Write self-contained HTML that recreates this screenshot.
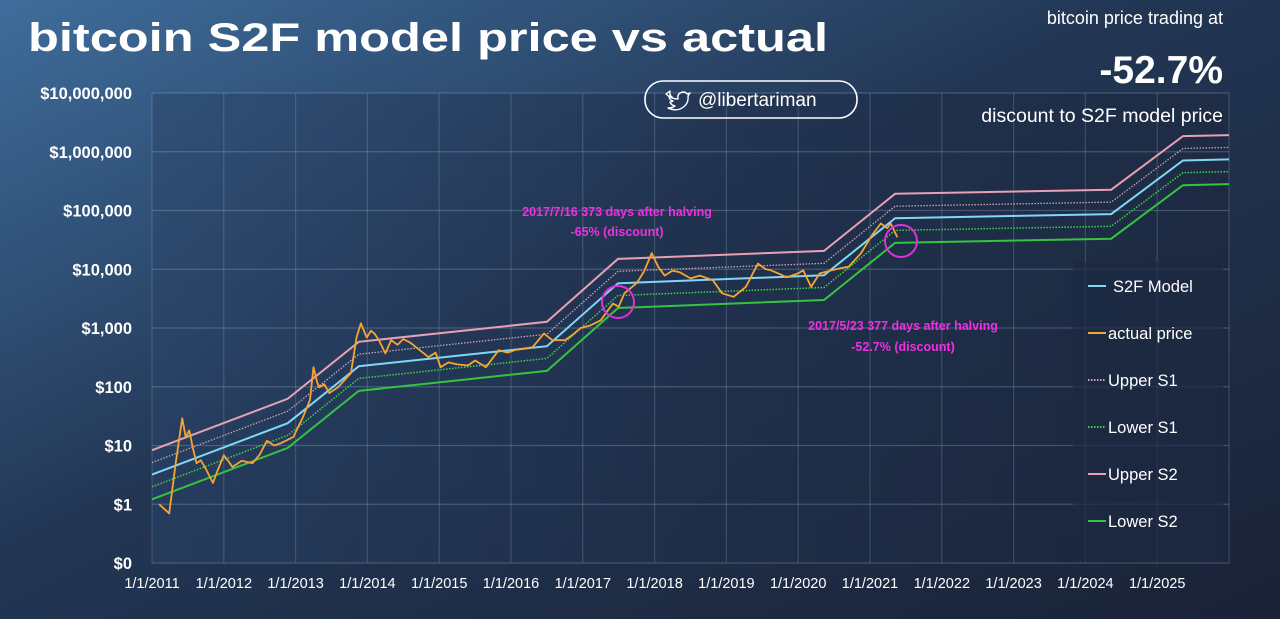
<!DOCTYPE html>
<html><head><meta charset="utf-8"><style>
html,body{margin:0;padding:0;width:1280px;height:619px;overflow:hidden;background:#1c2740;}
svg{display:block;font-family:"Liberation Sans",sans-serif;}
</style></head><body>
<svg id="chart" width="1280" height="619" viewBox="0 0 1280 619">
<defs>
<linearGradient id="bg" x1="0" y1="0" x2="1" y2="1">
<stop offset="0" stop-color="#3f6d9c"/><stop offset="0.45" stop-color="#223654"/><stop offset="1" stop-color="#1a2236"/>
</linearGradient>
<linearGradient id="pbg" x1="0" y1="0" x2="1" y2="0">
<stop offset="0" stop-color="#2a4468"/><stop offset="0.5" stop-color="#1f2e4a"/><stop offset="1" stop-color="#1b253b"/>
</linearGradient>
</defs>
<rect width="1280" height="619" fill="url(#bg)"/>
<rect x="152" y="93" width="1077" height="470" fill="url(#pbg)" opacity="0.5"/>
<g id="grid"></g>
<g id="yticks"></g>
<g id="xticks"></g>
<g id="series"></g>
<text x="28" y="51" font-size="40" font-weight="bold" fill="#fff" textLength="800" lengthAdjust="spacingAndGlyphs">bitcoin S2F model price  vs actual</text>
<text x="1223" y="24" font-size="18" fill="#fff" text-anchor="end">bitcoin price trading at</text>
<text x="1223" y="83" font-size="39" font-weight="bold" fill="#fff" text-anchor="end">-52.7%</text>
<text x="1223" y="122" font-size="19.5" fill="#fff" text-anchor="end">discount to S2F model price</text>
<g>
<rect x="645" y="81" width="212" height="37" rx="18" fill="none" stroke="#fff" stroke-width="1.6"/>
<path d="M666 94 q5 5 12 5 q-1 -6 5 -7 q3 0 4 2 l3 -1 l-2 3 q1 9 -8 13 q-6 2 -12 -1 q4 0 7 -2 q-4 -1 -5 -4 q2 0 3 -1 q-4 -1 -4 -5 q1 1 3 1 q-3 -2 -2 -6z" fill="none" stroke="#fff" stroke-width="1.4" stroke-linejoin="round"/>
<text x="698" y="106" font-size="19" fill="#fff">@libertariman</text>
</g>
<g id="annot"></g>
<g id="legend"></g>
</svg>
<script>
const NS="http://www.w3.org/2000/svg";
const yTickValues=[0.1,1,10,100,1000,10000,100000,1000000,10000000];
const yTickLabels=["$0","$1","$10","$100","$1,000","$10,000","$100,000","$1,000,000","$10,000,000"];
const xGridYears=[2011,2012,2013,2014,2015,2016,2017,2018,2019,2020,2021,2022,2023,2024,2025,2026];
const xTickYears=[2011,2012,2013,2014,2015,2016,2017,2018,2019,2020,2021,2022,2023,2024,2025];
const xTickLabels=["1/1/2011","1/1/2012","1/1/2013","1/1/2014","1/1/2015","1/1/2016","1/1/2017","1/1/2018","1/1/2019","1/1/2020","1/1/2021","1/1/2022","1/1/2023","1/1/2024","1/1/2025"];
const modelYears=[2011.0,2012.89,2013.88,2016.5,2017.49,2020.36,2021.35,2024.36,2025.36,2026.0];
const modelValues=[3.2,24,224,490,5760,7900,74000,87000,710000,740000];
const bandNames=["Upper S2","Upper S1","Lower S1","Lower S2"];
const bandFactors=[2.6,1.6,0.62,0.38];
const priceYears=[2011.1,2011.24,2011.33,2011.42,2011.47,2011.52,2011.57,2011.62,2011.68,2011.75,2011.85,2011.9,2012.0,2012.06,2012.12,2012.25,2012.4,2012.5,2012.6,2012.7,2012.8,2012.97,2013.1,2013.2,2013.25,2013.3,2013.33,2013.4,2013.47,2013.59,2013.77,2013.85,2013.91,2013.99,2014.05,2014.1,2014.16,2014.25,2014.33,2014.42,2014.5,2014.6,2014.68,2014.85,2014.95,2015.02,2015.13,2015.25,2015.4,2015.5,2015.65,2015.83,2015.95,2016.05,2016.2,2016.3,2016.46,2016.52,2016.58,2016.75,2016.85,2016.97,2017.1,2017.25,2017.35,2017.42,2017.5,2017.58,2017.75,2017.85,2017.96,2018.05,2018.14,2018.25,2018.35,2018.5,2018.63,2018.81,2018.94,2019.1,2019.27,2019.44,2019.55,2019.62,2019.75,2019.84,2020.0,2020.07,2020.18,2020.3,2020.47,2020.6,2020.7,2020.87,2021.04,2021.15,2021.24,2021.29,2021.38];
const priceValues=[1.0,0.7,5,29,14,18,9,5,5.6,4,2.3,3.4,6.8,5.5,4.3,5.5,5,7,12,10,11,14,30,60,215,120,98,110,78,98,170,700,1200,690,900,800,620,370,620,520,650,560,470,320,380,215,260,240,230,280,215,420,380,420,450,470,810,700,620,620,750,1000,1100,1350,2000,2600,2300,3900,5800,9000,18800,11000,7800,9500,8900,7000,7800,6500,3900,3400,5000,12500,10000,9600,8200,7300,8500,9600,5000,8500,9600,10500,11000,18500,40000,60000,50000,60000,35000];

const X0=152,X1=1229,Y0=563,Y1=93;
const xs=y=>X0+(y-2011)/(2026-2011)*(X1-X0);
const ys=v=>Y0-(Math.log10(v)+1)/8*(Y0-Y1);
function mk(tag,attrs,parent){const e=document.createElementNS(NS,tag);for(const k in attrs)e.setAttribute(k,attrs[k]);parent.appendChild(e);return e;}
const grid=document.getElementById('grid');
yTickValues.forEach((v,i)=>{
  const l=mk('line',{x1:X0,x2:X1,y1:ys(v),y2:ys(v),stroke:'rgba(170,190,220,0.28)','stroke-width':1.2},grid);
  
  
  const t=mk('text',{x:132,y:ys(v)+6,'text-anchor':'end','font-size':16.5,'font-weight':'bold',fill:'#fff'},document.getElementById('yticks'));
  t.textContent=yTickLabels[i];
  
  
});
xGridYears.forEach(y=>{
  const l=mk('line',{x1:xs(y),x2:xs(y),y1:Y1,y2:Y0,stroke:'rgba(170,190,220,0.22)','stroke-width':1.2},grid);
  
  
});
xTickYears.forEach((y,i)=>{
  const t=mk('text',{x:xs(y),y:588,'text-anchor':'middle','font-size':14.5,fill:'#fff'},document.getElementById('xticks'));
  t.textContent=xTickLabels[i];
  
  
});
const series=document.getElementById('series');
function pts(xa,va,f){return xa.map((x,i)=>xs(x).toFixed(1)+','+ys(va[i]*f).toFixed(1)).join(' ');}
const bandStyles=[
 {c:'#e8a0b4',w:2,d:''},{c:'#c6a6b6',w:1.3,d:'1.5 1.5'},{c:'#3ed24a',w:1.5,d:'1.5 1.5'},{c:'#35c440',w:2,d:''}];
bandFactors.forEach((f,i)=>{
  const p=mk('polyline',{points:pts(modelYears,modelValues,f),fill:'none',stroke:bandStyles[i].c,'stroke-width':bandStyles[i].w,'stroke-dasharray':bandStyles[i].d},series);
  
  
});
const m=mk('polyline',{points:pts(modelYears,modelValues,1),fill:'none',stroke:'#7fd8f5','stroke-width':2},series);


const pr=mk('polyline',{points:pts(priceYears,priceValues,1),fill:'none',stroke:'#f7a531','stroke-width':1.8,'stroke-linejoin':'round'},series);



const annot=document.getElementById('annot');
[[618,302],[901,241]].forEach((c,i)=>{
  const e=mk('circle',{cx:c[0],cy:c[1],r:16,fill:'none',stroke:'#e030d8','stroke-width':2},annot);
  
  
});
[[617,216,"2017/7/16 373 days after halving"],[617,236,"-65% (discount)"],[903,330,"2017/5/23 377 days after halving"],[903,351,"-52.7% (discount)"]].forEach(a=>{
  const t=mk('text',{x:a[0],y:a[1],'text-anchor':'middle','font-size':12.5,'font-weight':'bold',fill:'#f030e0'},annot);
  t.textContent=a[2];
  
  
});

const lg=document.getElementById('legend');
const lbg=mk('rect',{x:1073,y:262,width:150,height:300,fill:'#1d2a42',opacity:0.7},lg);


const legNames=["S2F Model","actual price","Upper S1","Lower S1","Upper S2","Lower S2"];
const legColors=['#7fd8f5','#f7a531','#c6a6b6','#3ed24a','#e8a0b4','#35c440'];
const legDash=['','','1.5 1.5','1.5 1.5','',''];
legNames.forEach((n,i)=>{
  const y=286+i*47;
  const g=mk('g',{},lg);
  
  
  mk('line',{x1:1088,x2:1106,y1:y,y2:y,stroke:legColors[i],'stroke-width':2,'stroke-dasharray':legDash[i]},g);
  const t=mk('text',{x:i==0?1113:1108,y:y+6,'font-size':16.5,fill:'#fff'},g);
  t.textContent=n;
});
</script>
</body></html>
